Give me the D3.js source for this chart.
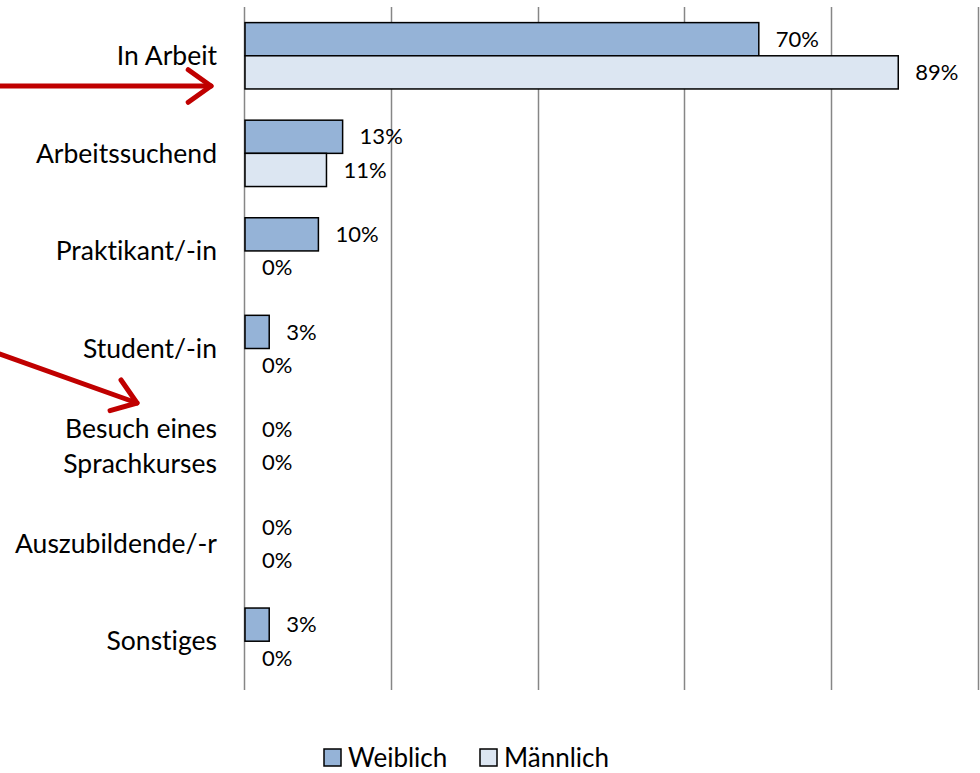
<!DOCTYPE html>
<html>
<head>
<meta charset="utf-8">
<script src="https://cdn.jsdelivr.net/npm/d3@7"></script>
<style>
  body { margin: 0; background: #fff; }
  text { font-family: Lato, "Open Sans", sans-serif; fill: #000; font-variant-ligatures: none; }
</style>
</head>
<body>
<div id="chart"></div>
<script>
// data
var categories = ["In Arbeit", "Arbeitssuchend", "Praktikant/-in", "Student/-in",
                  "Besuch eines Sprachkurses", "Auszubildende/-r", "Sonstiges"];
var seriesNames = ["Weiblich", "Männlich"];
var weiblich = [70, 13.3, 10, 3.3, 0, 0, 3.3];
var maennlich = [89, 11.1, 0, 0, 0, 0, 0];
var xTicks = [0, 20, 40, 60, 80, 100];

var colors = ["#95B3D7", "#DCE6F2"];

var W = 980, H = 773;
var margin = {top: 7, right: 1, bottom: 83, left: 245};

var svg = d3.select("#chart")
  .append("svg")
    .attr("width", W)
    .attr("height", H);

var x = d3.scaleLinear()
    .domain([0, 100])
    .range([margin.left, W - margin.right]);

var y = d3.scaleBand()
    .domain(categories)
    .range([margin.top, H - margin.bottom])
    .paddingInner(0.32)
    .paddingOuter(0.16);

var ySub = d3.scaleBand()
    .domain(seriesNames)
    .range([0, y.bandwidth()]);

// gridlines
svg.append("g")
  .selectAll("line")
  .data(xTicks)
  .join("line")
    .attr("x1", d => Math.round(x(d)) - 0.5)
    .attr("x2", d => Math.round(x(d)) - 0.5)
    .attr("y1", margin.top)
    .attr("y2", H - margin.bottom)
    .style("stroke", "#868686")
    .style("stroke-width", 1.5);

// category labels
var lab = svg.append("g")
  .selectAll("text")
  .data(categories)
  .join("text")
    .attr("text-anchor", "end")
    .attr("x", margin.left - 28)
    .attr("y", d => y(d) + y.bandwidth() / 2)
    .attr("font-size", "26.5px");
lab.each(function(d) {
  var t = d3.select(this);
  var words = d === "Besuch eines Sprachkurses" ? ["Besuch eines", "Sprachkurses"] : [d];
  words.forEach(function(w, i) {
    t.append("tspan")
      .attr("x", margin.left - 28)
      .attr("dy", i === 0 ? (0.35 - (words.length - 1) * 0.66) + "em" : "1.32em")
      .text(w);
  });
});

var rows = [];
categories.forEach(function(c, i) {
  rows.push({cat: c, s: 0, v: weiblich[i]});
  rows.push({cat: c, s: 1, v: maennlich[i]});
});

// bars
svg.append("g")
  .selectAll("rect")
  .data(rows.filter(d => d.v > 0))
  .join("rect")
    .attr("x", x(0))
    .attr("y", d => y(d.cat) + ySub(seriesNames[d.s]))
    .attr("width", d => x(d.v) - x(0))
    .attr("height", ySub.bandwidth())
    .style("fill", d => colors[d.s])
    .style("stroke", "#000")
    .style("stroke-width", 1.5);

// value labels
svg.append("g")
  .selectAll("text")
  .data(rows)
  .join("text")
    .attr("x", d => x(d.v) + 17)
    .attr("y", d => y(d.cat) + ySub(seriesNames[d.s]) + ySub.bandwidth() / 2)
    .attr("dy", "0.35em")
    .attr("font-size", "22px")
    .text(d => Math.round(d.v) + "%");

// legend
var leg = svg.append("g")
  .selectAll("g")
  .data(seriesNames)
  .join("g")
    .attr("transform", (d, i) => "translate(" + (324 + i * 156) + ",749)");
leg.append("rect")
    .attr("width", 17)
    .attr("height", 17)
    .style("fill", (d, i) => colors[i])
    .style("stroke", "#000")
    .style("stroke-width", 1.5);
leg.append("text")
    .attr("x", 24)
    .attr("y", 9)
    .attr("dy", "0.35em")
    .attr("font-size", "26px")
    .text(d => d);

// red arrows
var arrows = [
  {x1: 0, y1: 86, x2: 211, y2: 86},
  {x1: 0, y1: 354, x2: 137, y2: 403}
];
arrows.forEach(function(a) {
  var ang = Math.atan2(a.y2 - a.y1, a.x2 - a.x1);
  var len = 28, spread = 0.62;
  var g = svg.append("g")
    .style("stroke", "#C00000")
    .style("stroke-width", 5)
    .style("stroke-linecap", "round")
    .style("fill", "none");
  g.append("line")
    .attr("x1", a.x1).attr("y1", a.y1)
    .attr("x2", a.x2).attr("y2", a.y2);
  g.append("polyline")
    .attr("points", [
      [a.x2 - len * Math.cos(ang - spread), a.y2 - len * Math.sin(ang - spread)],
      [a.x2, a.y2],
      [a.x2 - len * Math.cos(ang + spread), a.y2 - len * Math.sin(ang + spread)]
    ].map(p => p.join(",")).join(" "))
    .style("stroke-linejoin", "round");
});
</script>
</body>
</html>
